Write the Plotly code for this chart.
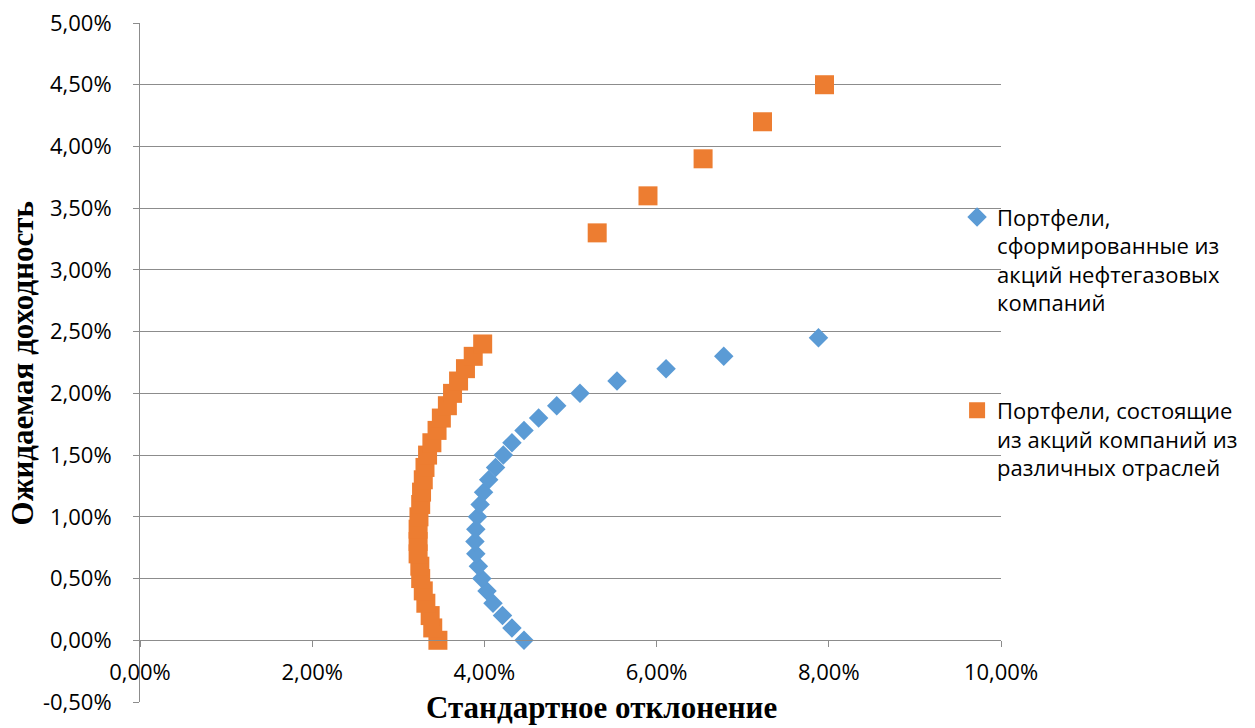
import plotly.graph_objects as go

# ---- data (fractions) ----
oil_sd = [0.0446, 0.0432, 0.0421, 0.0410, 0.0403, 0.0397, 0.0393, 0.0390, 0.0389, 0.0390,
          0.0392, 0.0395, 0.0399, 0.0405, 0.0413, 0.0422, 0.0432, 0.0446, 0.0463, 0.0484,
          0.0511, 0.0554, 0.0611, 0.0678, 0.0788]
oil_ret = [0.000, 0.001, 0.002, 0.003, 0.004, 0.005, 0.006, 0.007, 0.008, 0.009,
           0.010, 0.011, 0.012, 0.013, 0.014, 0.015, 0.016, 0.017, 0.018, 0.019,
           0.020, 0.021, 0.022, 0.023, 0.0245]

div_sd = [0.0346, 0.0340, 0.0337, 0.0332, 0.0329, 0.0326, 0.0325, 0.0323, 0.0323, 0.0323,
          0.0324, 0.0326, 0.0327, 0.0329, 0.0331, 0.0334, 0.0339, 0.0345, 0.0350, 0.0357,
          0.0363, 0.0370, 0.0378, 0.0387, 0.0398,
          0.0531, 0.0590, 0.0654, 0.0723, 0.0795]
div_ret = [0.000, 0.001, 0.002, 0.003, 0.004, 0.005, 0.006, 0.007, 0.008, 0.009,
           0.010, 0.011, 0.012, 0.013, 0.014, 0.015, 0.016, 0.017, 0.018, 0.019,
           0.020, 0.021, 0.022, 0.023, 0.024,
           0.033, 0.036, 0.039, 0.042, 0.045]

x_tickvals = [0.0, 0.02, 0.04, 0.06, 0.08, 0.10]
x_ticktext = ["0,00%", "2,00%", "4,00%", "6,00%", "8,00%", "10,00%"]
y_tickvals = [-0.005, 0.0, 0.005, 0.01, 0.015, 0.02, 0.025, 0.03, 0.035, 0.04, 0.045, 0.05]
y_ticktext = ["-0,50%", "0,00%", "0,50%", "1,00%", "1,50%", "2,00%", "2,50%",
              "3,00%", "3,50%", "4,00%", "4,50%", "5,00%"]

name_oil = "Портфели,<br>сформированные из<br>акций нефтегазовых<br>компаний"
name_div = "Портфели, состоящие<br>из акций компаний из<br>различных отраслей"
x_title = "Стандартное отклонение"
y_title = "Ожидаемая доходность"

BLUE = "#5B9BD5"
ORANGE = "#ED7D31"
GRID = "#8C8C8C"
TICKFONT = dict(family="Open Sans", size=22, color="#000000")
TITLEFONT = dict(family="Liberation Serif", size=31, color="#000000", weight="bold")

fig = go.Figure()
fig.add_trace(go.Scatter(x=oil_sd, y=oil_ret, mode="markers", name=name_oil,
                         legendgroup="a",
                         marker=dict(symbol="diamond", size=15, color=BLUE)))
fig.add_trace(go.Scatter(x=div_sd, y=div_ret, mode="markers", name=name_div,
                         legendgroup="b",
                         marker=dict(symbol="square", size=19, color=ORANGE)))

fig.update_layout(
    width=1255, height=728,
    margin=dict(l=140, r=250, t=23, b=26),
    paper_bgcolor="white", plot_bgcolor="white",
    showlegend=True,
    legend=dict(x=0.949, y=0.745, xanchor="left", yanchor="top",
                font=dict(family="Open Sans", size=22, color="#000000"),
                bgcolor="rgba(0,0,0,0)", valign="top",
                traceorder="grouped", tracegroupgap=76, itemwidth=30),
    xaxis=dict(range=[0, 0.10], tickvals=x_tickvals, ticktext=x_ticktext,
               showgrid=False, zeroline=False, showline=True, linecolor=GRID,
               linewidth=1, ticks="outside", ticklen=6, tickcolor=GRID,
               anchor="free", position=0.5 / 5.5, tickfont=TICKFONT,
               ticklabelstandoff=6, automargin=False),
    yaxis=dict(range=[-0.005, 0.05], tickvals=y_tickvals, ticktext=y_ticktext,
               showgrid=True, gridcolor=GRID, gridwidth=1, zeroline=False,
               showline=True, linecolor=GRID, linewidth=1, ticks="outside",
               ticklen=6, tickcolor=GRID, tickfont=TICKFONT,
               ticklabelstandoff=17, automargin=False),
    annotations=[
        dict(text=x_title, xref="paper", yref="paper", x=0.5364, y=-0.008,
             xanchor="center", yanchor="middle", showarrow=False, font=TITLEFONT),
        dict(text=y_title, xref="paper", yref="paper", x=-0.1364, y=0.4978,
             xanchor="center", yanchor="middle", showarrow=False, textangle=-90,
             font=TITLEFONT),
    ],
)

fig.write_html("out.html", config={"displayModeBar": False},
               post_script="document.body.style.margin='0';document.body.style.overflow='hidden';")
